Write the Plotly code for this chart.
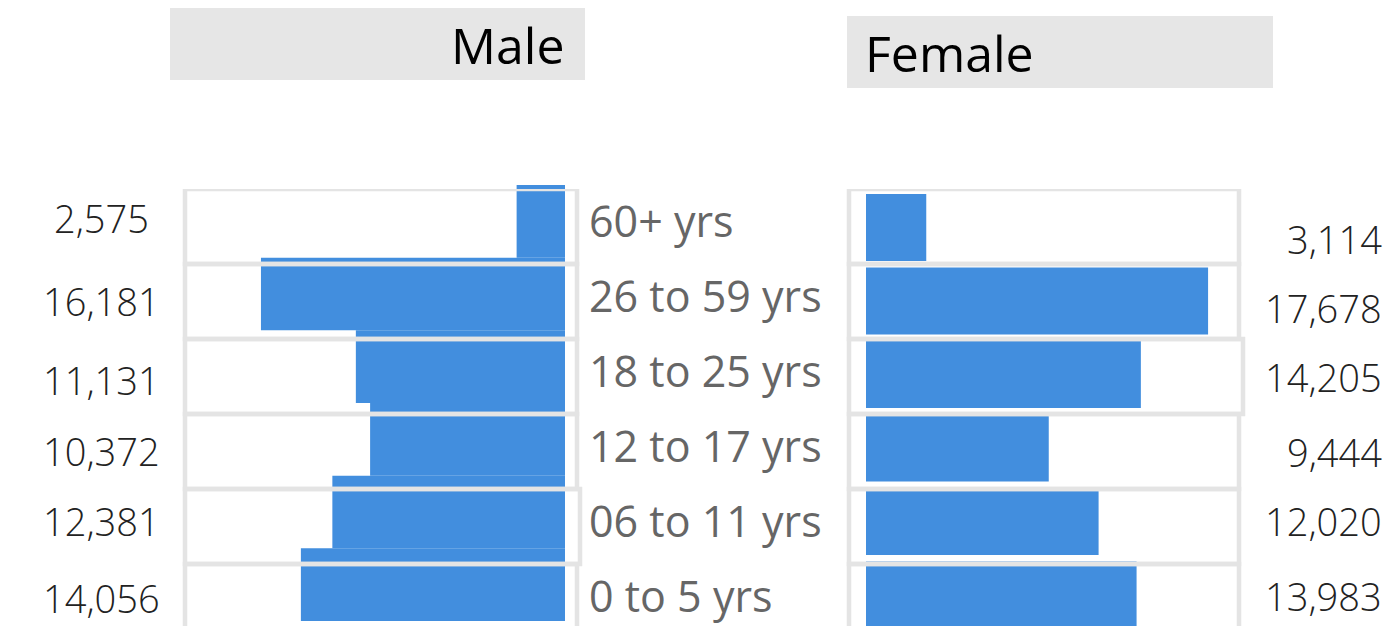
import plotly.graph_objects as go

# ---------------- data ----------------
age_groups = ["0 to 5 yrs", "06 to 11 yrs", "12 to 17 yrs", "18 to 25 yrs", "26 to 59 yrs", "60+ yrs"]
male = [14056, 12381, 10372, 11131, 16181, 2575]
female = [13983, 12020, 9444, 14205, 17678, 3114]
panel_titles = ["Male", "Female"]

# ---------------- style ----------------
W, H = 1399, 626
BAR = "#428EDE"
FRAME = "#E4E4E4"
FONT = "Segoe UI, Open Sans, Noto Sans, sans-serif"


def px(x):
    return x / W


def py(y):
    return 1 - y / H


fig = go.Figure()

fig.add_trace(go.Bar(
    y=age_groups, x=male, orientation="h", xaxis="x", yaxis="y",
    marker=dict(color=BAR, line=dict(width=0)), width=1.0, hoverinfo="x+y",
))
fig.add_trace(go.Bar(
    y=age_groups, x=female, orientation="h", xaxis="x2", yaxis="y2",
    marker=dict(color=BAR, line=dict(width=0)), width=0.91, hoverinfo="x+y",
))
# invisible trace defining the row grid used for frames & labels
fig.add_trace(go.Scatter(
    y=age_groups, x=[0] * len(age_groups), xaxis="x", yaxis="y3",
    mode="markers", marker=dict(opacity=0), hoverinfo="skip", showlegend=False,
))

hidden = dict(showticklabels=False, showgrid=False, zeroline=False, showline=False, ticks="")
cat = dict(type="category", categoryorder="array", categoryarray=age_groups)

fig.update_layout(
    width=W, height=H,
    margin=dict(l=0, r=0, t=0, b=0),
    paper_bgcolor="white", plot_bgcolor="rgba(0,0,0,0)",
    showlegend=False, barmode="overlay",
    xaxis=dict(domain=[px(183), px(565)], range=[20330, 0], anchor="y", **hidden),
    yaxis=dict(domain=[py(621), py(185)], range=[-0.5, 5.5], anchor="x", **cat, **hidden),
    xaxis2=dict(domain=[px(866), px(1239)], range=[0, 19276], anchor="y2", **hidden),
    yaxis2=dict(domain=[0, py(190.75)], range=[-0.422, 5.5], anchor="x2", **cat, **hidden),
    yaxis3=dict(domain=[0, py(189)], range=[5.5 - 437 / 75, 5.5], anchor="x", **cat, **hidden),
)

shapes = []
# title boxes
shapes.append(dict(type="rect", xref="paper", yref="paper", x0=px(170), x1=px(585), y0=py(80), y1=py(8),
                   fillcolor="#E6E6E6", line=dict(width=0), layer="below"))
shapes.append(dict(type="rect", xref="paper", yref="paper", x0=px(847), x1=px(1273), y0=py(88), y1=py(16),
                   fillcolor="#E6E6E6", line=dict(width=0), layer="below"))

# row frames (slightly hand-drawn look)
male_frame_right = [577, 580, 577, 577, 577, 577]
female_frame_right = [1239, 1239, 1239, 1243, 1239, 1239]
for i in range(len(age_groups)):
    shapes.append(dict(type="rect", xref="paper", yref="y3", x0=px(185), x1=px(male_frame_right[i]),
                       y0=i - 0.5, y1=i + 0.5, line=dict(color=FRAME, width=4.5), layer="above"))
    shapes.append(dict(type="rect", xref="paper", yref="y3", x0=px(849), x1=px(female_frame_right[i]),
                       y0=i - 0.5, y1=i + 0.5, line=dict(color=FRAME, width=4.5), layer="above"))
fig.update_layout(shapes=shapes)

ann = []
ann.append(dict(text=panel_titles[0], xref="paper", yref="paper", x=px(566), y=py(45),
                xanchor="right", yanchor="middle", showarrow=False,
                font=dict(family=FONT, size=50, color="#000000")))
ann.append(dict(text=panel_titles[1], xref="paper", yref="paper", x=px(863), y=py(53),
                xanchor="left", yanchor="middle", showarrow=False,
                font=dict(family=FONT, size=50, color="#000000")))

male_label_shift = [4, 6, 1, -3, 1, 9]
female_label_shift = [6, 6, 0, 0, -6, -12]
for i, g in enumerate(age_groups):
    ann.append(dict(text=g, xref="paper", yref="y3", x=px(587), y=i, yshift=6,
                    xanchor="left", yanchor="middle", showarrow=False,
                    font=dict(family=FONT, size=43, color="#666666")))
    ann.append(dict(text=f"{male[i]:,}", xref="paper", yref="y3", x=px(101), y=i,
                    yshift=male_label_shift[i],
                    xanchor="center", yanchor="middle", showarrow=False,
                    font=dict(family=FONT, size=38, color="#222222", weight=300)))
    ann.append(dict(text=f"{female[i]:,}", xref="paper", yref="y3", x=px(1384), y=i,
                    yshift=female_label_shift[i],
                    xanchor="right", yanchor="middle", showarrow=False,
                    font=dict(family=FONT, size=38, color="#222222", weight=300)))
fig.update_layout(annotations=ann)

fig.write_html(
    "out.html",
    config={"displayModeBar": False},
    post_script="document.body.style.margin='0';document.body.style.overflow='hidden';",
)
